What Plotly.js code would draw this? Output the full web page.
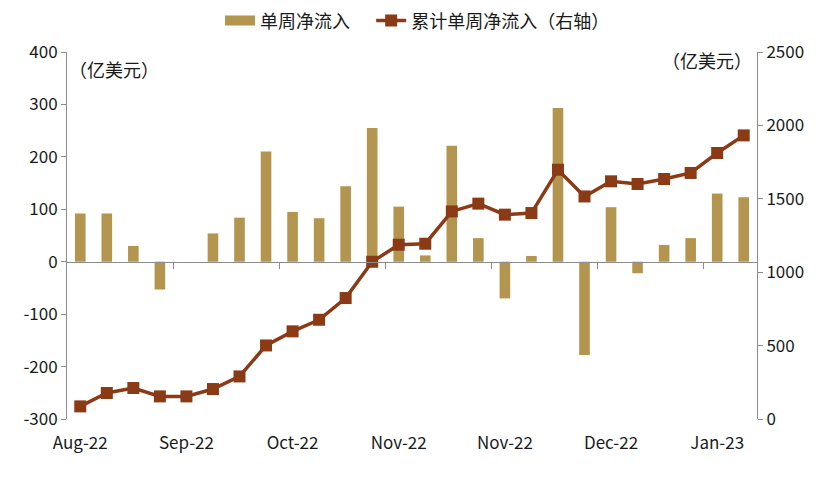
<!DOCTYPE html>
<html>
<head>
<meta charset="utf-8">
<script src="https://cdn.plot.ly/plotly-3.0.1.min.js"></script>
<style>html,body{margin:0;padding:0;background:#fff;}#chart{width:825px;height:478px;}</style>
</head>
<body>
<div id="chart"></div>
<script>
// weekly net inflow (亿美元), 26 weeks
const weeklyFlow = [92, 92, 30, -53, 0, 54, 84, 210, 95, 83, 144, 255, 105, 12,
                    221, 45, -70, 11, 293, -178, 104, -22, 32, 45, 130, 123];
// cumulative weekly net inflow (right axis)
const cumulativeFlow = [86, 177, 211, 154, 154, 204, 290, 501, 597, 676, 824, 1071, 1187, 1194,
                        1414, 1467, 1392, 1403, 1698, 1516, 1619, 1601, 1635, 1676, 1812, 1932];
const tickLabels = ['Aug-22', 'Sep-22', 'Oct-22', 'Nov-22', 'Nov-22', 'Dec-22', 'Jan-23'];
const tickIndex = [0, 4, 8, 12, 16, 20, 24];
const boundaryTicks = [3.5, 7.5, 11.5, 15.5, 19.5, 23.5];
const leftTickVals = [-300, -200, -100, 0, 100, 200, 300, 400];
const leftTickText = ['-300', '-200', '-100', '0', '100', '200', '300', '400'];

const weekIdx = weeklyFlow.map((_, i) => i);
const yRange = [-300, 400];
const y2Range = [0, 2500];
const xRange = [-0.5, weeklyFlow.length - 0.5];
const zeroPos = (0 - yRange[0]) / (yRange[1] - yRange[0]);

const FONT = '"Noto Sans CJK SC", "Noto Sans", sans-serif';
const AXIS = '#8c8c8c';
const BAR = '#B3954F';
const LINE = '#8B3A16';
const PAD = '\u00a0\u00a0\u00a0\u00a0';

const traces = [
  {
    type: 'bar', name: '单周净流入', x: weekIdx, y: weeklyFlow, showlegend: false,
    marker: {color: BAR}, width: 0.4, xaxis: 'x', yaxis: 'y'
  },
  {
    // legend swatch for the bars (wide rectangle as in the reference)
    type: 'scatter', mode: 'lines', name: '单周净流入' + PAD, x: [null], y: [null],
    line: {color: BAR, width: 10}, xaxis: 'x', yaxis: 'y', hoverinfo: 'skip'
  },
  {
    type: 'scatter', mode: 'lines+markers', name: '累计单周净流入（右轴）',
    x: weekIdx, y: cumulativeFlow, xaxis: 'x2', yaxis: 'y2',
    line: {color: LINE, width: 3.5},
    marker: {color: LINE, symbol: 'square', size: 12}
  }
];

const layout = {
  width: 825, height: 478,
  margin: {l: 67, r: 68, t: 52, b: 59},
  paper_bgcolor: '#fff', plot_bgcolor: '#fff',
  font: {family: FONT, size: 17, color: '#1a1a1a'},
  showlegend: true,
  legend: {
    orientation: 'h', x: 0.508, xanchor: 'center', y: 0.995, yanchor: 'top',
    yref: 'container', font: {size: 18},
    itemwidth: 30, tracegroupgap: 0
  },
  bargap: 0.6,
  xaxis: {
    range: xRange, tickmode: 'array', tickvals: tickIndex, ticktext: tickLabels,
    showline: false, ticks: '', showgrid: false, zeroline: false,
    tickfont: {size: 17}, ticklabelstandoff: 12
  },
  xaxis2: {
    overlaying: 'x', anchor: 'free', position: zeroPos, range: xRange,
    tickmode: 'array', tickvals: boundaryTicks, ticks: 'outside', ticklen: 6,
    tickcolor: AXIS, showticklabels: false, showline: true, linecolor: AXIS,
    linewidth: 1, showgrid: false, zeroline: false
  },
  yaxis: {
    range: yRange, tickmode: 'array', tickvals: leftTickVals, ticktext: leftTickText,
    showline: true, linecolor: AXIS, linewidth: 1,
    ticks: 'outside', ticklen: 5, tickcolor: AXIS, showgrid: false, zeroline: false,
    tickfont: {size: 17}
  },
  yaxis2: {
    range: y2Range, dtick: 500, overlaying: 'y', side: 'right', anchor: 'x',
    showline: true, linecolor: AXIS, linewidth: 1, ticks: 'outside', ticklen: 5,
    tickcolor: AXIS, showgrid: false, zeroline: false, tickfont: {size: 17}
  },
  annotations: [
    {text: '（亿美元）', xref: 'paper', yref: 'paper', x: 0.0, y: 0.955,
     xanchor: 'left', yanchor: 'middle', showarrow: false, font: {size: 18}},
    {text: '（亿美元）', xref: 'paper', yref: 'paper', x: 0.995, y: 0.977,
     xanchor: 'right', yanchor: 'middle', showarrow: false, font: {size: 18}}
  ]
};

Plotly.newPlot('chart', traces, layout, {displayModeBar: false, staticPlot: true});
</script>
</body>
</html>
